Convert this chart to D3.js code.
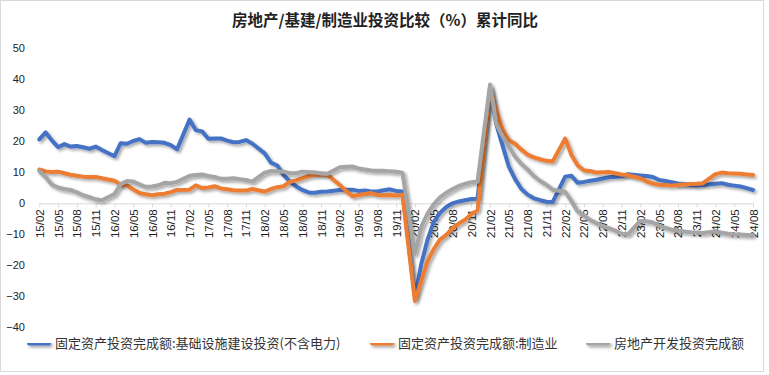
<!DOCTYPE html>
<html>
<head>
<meta charset="utf-8">
<script src="https://cdn.jsdelivr.net/npm/d3@7"></script>
<style>
  html, body { margin: 0; padding: 0; background: #fff; }
  svg { display: block; }
</style>
</head>
<body>
<svg id="chart" width="769" height="375"></svg>
<script>
// ---------- DATA ----------
const title = "房地产/基建/制造业投资比较（%）累计同比";

// monthly categories (January has no separate release: value null, line connects across)
const categories = [
  "15/02","15/03","15/04","15/05","15/06","15/07","15/08","15/09","15/10","15/11","15/12",
  "16/01","16/02","16/03","16/04","16/05","16/06","16/07","16/08","16/09","16/10","16/11","16/12",
  "17/01","17/02","17/03","17/04","17/05","17/06","17/07","17/08","17/09","17/10","17/11","17/12",
  "18/01","18/02","18/03","18/04","18/05","18/06","18/07","18/08","18/09","18/10","18/11","18/12",
  "19/01","19/02","19/03","19/04","19/05","19/06","19/07","19/08","19/09","19/10","19/11","19/12",
  "20/01","20/02","20/03","20/04","20/05","20/06","20/07","20/08","20/09","20/10","20/11","20/12",
  "21/01","21/02","21/03","21/04","21/05","21/06","21/07","21/08","21/09","21/10","21/11","21/12",
  "22/01","22/02","22/03","22/04","22/05","22/06","22/07","22/08","22/09","22/10","22/11","22/12",
  "23/01","23/02","23/03","23/04","23/05","23/06","23/07","23/08","23/09","23/10","23/11","23/12",
  "24/01","24/02","24/03","24/04","24/05","24/06","24/07","24/08"
];

// tick labels shown on the x axis (every third month)
const xTickLabels = [
  "15/02","15/05","15/08","15/11","16/02","16/05","16/08","16/11","17/02","17/05","17/08","17/11",
  "18/02","18/05","18/08","18/11","19/02","19/05","19/08","19/11","20/02","20/05","20/08","20/11",
  "21/02","21/05","21/08","21/11","22/02","22/05","22/08","22/11","23/02","23/05","23/08","23/11",
  "24/02","24/05","24/08"
];

const yTicks = [-40, -30, -20, -10, 0, 10, 20, 30, 40, 50];

const seriesNames = [
  "固定资产投资完成额:基础设施建设投资(不含电力)",
  "固定资产投资完成额:制造业",
  "房地产开发投资完成额"
];

const infra = [
  20.6, 22.9, 20.3, 18.1, 19.1, 18.3, 18.5, 18.1, 17.6, 18.3, 17.2,
  null, 15.2, 19.4, 19.2, 20.1, 20.7, 19.5, 19.8, 19.7, 19.5, 18.8, 17.4,
  null, 27.0, 23.6, 23.2, 20.8, 20.9, 20.9, 20.2, 19.7, 19.8, 20.4, 19.3,
  null, 16.1, 13.1, 12.2, 9.2, 7.1, 5.5, 4.3, 3.5, 3.4, 3.7, 3.8,
  null, 4.3, 4.4, 4.4, 4.0, 4.1, 3.8, 3.8, 4.2, 4.5, 4.0, 3.8,
  null, -30.3, -19.7, -11.8, -6.0, -3.1, -1.2, 0.0, 0.6, 1.0, 1.4, 1.5,
  null, 36.6, 25.5, 18.6, 11.8, 7.8, 4.6, 2.8, 1.6, 1.0, 0.5, 0.4,
  null, 8.6, 8.9, 6.6, 6.9, 7.3, 7.6, 8.0, 8.4, 8.6, 8.7, 9.4,
  null, 9.0, 8.8, 8.5, 7.5, 7.2, 6.8, 6.4, 6.2, 5.9, 5.7, 5.9,
  null, 6.3, 6.5, 6.0, 5.7, 5.4, 4.9, 4.3
];

const manufacturing = [
  10.9, 10.3, 10.1, 10.2, 9.7, 9.2, 8.9, 8.6, 8.5, 8.5, 8.1,
  null, 7.3, 6.0, 5.8, 4.5, 3.3, 2.9, 2.6, 2.9, 3.1, 3.6, 4.3,
  null, 4.4, 5.8, 4.9, 5.1, 5.5, 4.8, 4.5, 4.2, 4.1, 4.1, 4.6,
  null, 3.8, 4.6, 5.2, 5.5, 6.9, 7.4, 8.1, 8.8, 9.1, 9.2, 9.2,
  null, 5.9, 4.0, 2.3, 2.7, 3.0, 3.3, 2.7, 2.6, 2.7, 2.5, 2.8,
  null, -31.5, -25.2, -18.8, -14.8, -11.7, -10.2, -8.1, -6.5, -5.3, -3.5, -2.2,
  null, 37.3, 29.8, 23.8, 20.4, 19.2, 17.3, 15.7, 14.8, 14.2, 13.7, 13.5,
  null, 20.9, 15.6, 12.2, 10.6, 10.4, 9.9, 10.0, 10.1, 9.7, 9.3, 9.1,
  null, 8.1, 7.0, 6.4, 6.0, 5.9, 5.7, 5.9, 6.1, 6.2, 6.3, 6.5,
  null, 9.4, 9.9, 9.7, 9.6, 9.5, 9.3, 9.1
];

const realEstate = [
  10.4, 8.5, 6.0, 5.1, 4.6, 4.3, 3.5, 2.6, 2.0, 1.3, 1.0,
  null, 3.0, 6.2, 7.2, 7.0, 6.1, 5.3, 5.4, 5.8, 6.6, 6.5, 6.9,
  null, 8.9, 9.1, 9.3, 8.8, 8.5, 7.9, 7.9, 8.1, 7.8, 7.5, 7.0,
  null, 9.9, 10.4, 10.3, 10.2, 9.7, 9.7, 10.2, 10.1, 9.9, 9.7, 9.5,
  null, 11.6, 11.8, 11.9, 11.2, 10.9, 10.6, 10.5, 10.5, 10.3, 10.2, 9.9,
  null, -16.3, -7.7, -3.3, -0.3, 1.9, 3.4, 4.6, 5.6, 6.3, 6.8, 7.0,
  null, 38.3, 25.6, 21.6, 18.3, 15.0, 12.7, 10.9, 8.8, 7.2, 6.0, 4.4,
  null, 3.7, 0.7, -2.7, -4.0, -5.4, -6.4, -7.4, -8.0, -8.8, -9.8, -10.0,
  null, -5.7, -5.8, -6.2, -7.2, -7.9, -8.5, -8.8, -9.1, -9.3, -9.4, -9.6,
  null, -9.0, -9.5, -9.8, -10.1, -10.1, -10.2, -10.2
];

const seriesColors = ["#4472C4", "#ED7D31", "#A5A5A5"];

// ---------- CHART ----------
const svg = d3.select("#chart");

svg.append("rect")
  .attr("x", 0.5).attr("y", 0.5).attr("width", 763).attr("height", 371)
  .attr("fill", "#fff").attr("stroke", "#d9d9d9").attr("stroke-width", 1);

const defs = svg.append("defs");
const f = defs.append("filter").attr("id", "shadow")
  .attr("filterUnits", "userSpaceOnUse")
  .attr("x", 0).attr("y", 0).attr("width", 769).attr("height", 375);
f.append("feDropShadow").attr("dx", 2).attr("dy", 2).attr("stdDeviation", 1.4)
  .attr("flood-color", "#000").attr("flood-opacity", 0.35);

const x = d3.scaleLinear().domain([0, categories.length - 1]).range([39.3, 753]);
const y = d3.scaleLinear().domain([-40, 50]).range([327.3, 48.3]);

// title
svg.append("text")
  .attr("x", 385).attr("y", 26)
  .attr("text-anchor", "middle")
  .attr("font-family", "'Noto Sans CJK SC', sans-serif")
  .attr("font-size", 15.5).attr("font-weight", "bold")
  .attr("fill", "#222")
  .text(title);

// y axis (labels only)
const yAxis = svg.append("g")
  .attr("transform", "translate(28,0)")
  .call(d3.axisLeft(y).tickValues(yTicks).tickSize(0).tickPadding(3).tickFormat(d3.format("d")));
yAxis.select(".domain").remove();
yAxis.selectAll("text")
  .attr("font-family", "'Liberation Sans', Arial, sans-serif")
  .attr("font-size", 11).attr("fill", "#222");

// x axis at zero
const tickIdx = xTickLabels.map(l => categories.indexOf(l));
const xAxis = svg.append("g")
  .attr("transform", `translate(0,${y(0)})`)
  .call(d3.axisBottom(x).tickValues(tickIdx).tickSize(4).tickSizeOuter(0)
    .tickFormat(i => categories[i]));
xAxis.select(".domain").attr("stroke", "#d9d9d9");
xAxis.selectAll(".tick line").attr("stroke", "#d9d9d9");
xAxis.selectAll("text")
  .attr("font-family", "'Liberation Sans', Arial, sans-serif")
  .attr("font-size", 11.5).attr("fill", "#222")
  .attr("transform", "rotate(-90)")
  .attr("text-anchor", "end")
  .attr("x", -6).attr("y", 0).attr("dy", "0.35em");

// lines
const allSeries = [infra, manufacturing, realEstate];
const line = d3.line()
  .x(d => x(d.i))
  .y(d => y(d.v));

allSeries.forEach((vals, k) => {
  const pts = vals.map((v, i) => ({ i, v })).filter(d => d.v !== null);
  svg.append("path")
    .datum(pts)
    .attr("d", line)
    .attr("fill", "none")
    .attr("stroke", seriesColors[k])
    .attr("stroke-width", 4)
    .attr("stroke-linejoin", "round")
    .attr("stroke-linecap", "round")
    .attr("filter", "url(#shadow)");
});

// legend
const legendX = [27, 370, 586];
const leg = svg.append("g");
seriesNames.forEach((name, k) => {
  const g = leg.append("g").attr("transform", `translate(${legendX[k]},343.5)`);
  g.append("rect")
    .attr("x", 0).attr("y", -2).attr("width", 24).attr("height", 4).attr("rx", 2)
    .attr("fill", seriesColors[k])
    .attr("filter", "url(#shadow)");
  g.append("text")
    .attr("x", 28).attr("y", 0).attr("dy", "0.36em")
    .attr("font-family", "'Noto Sans CJK SC', sans-serif")
    .attr("font-size", 13).attr("fill", "#333")
    .text(name);
});
</script>
</body>
</html>
